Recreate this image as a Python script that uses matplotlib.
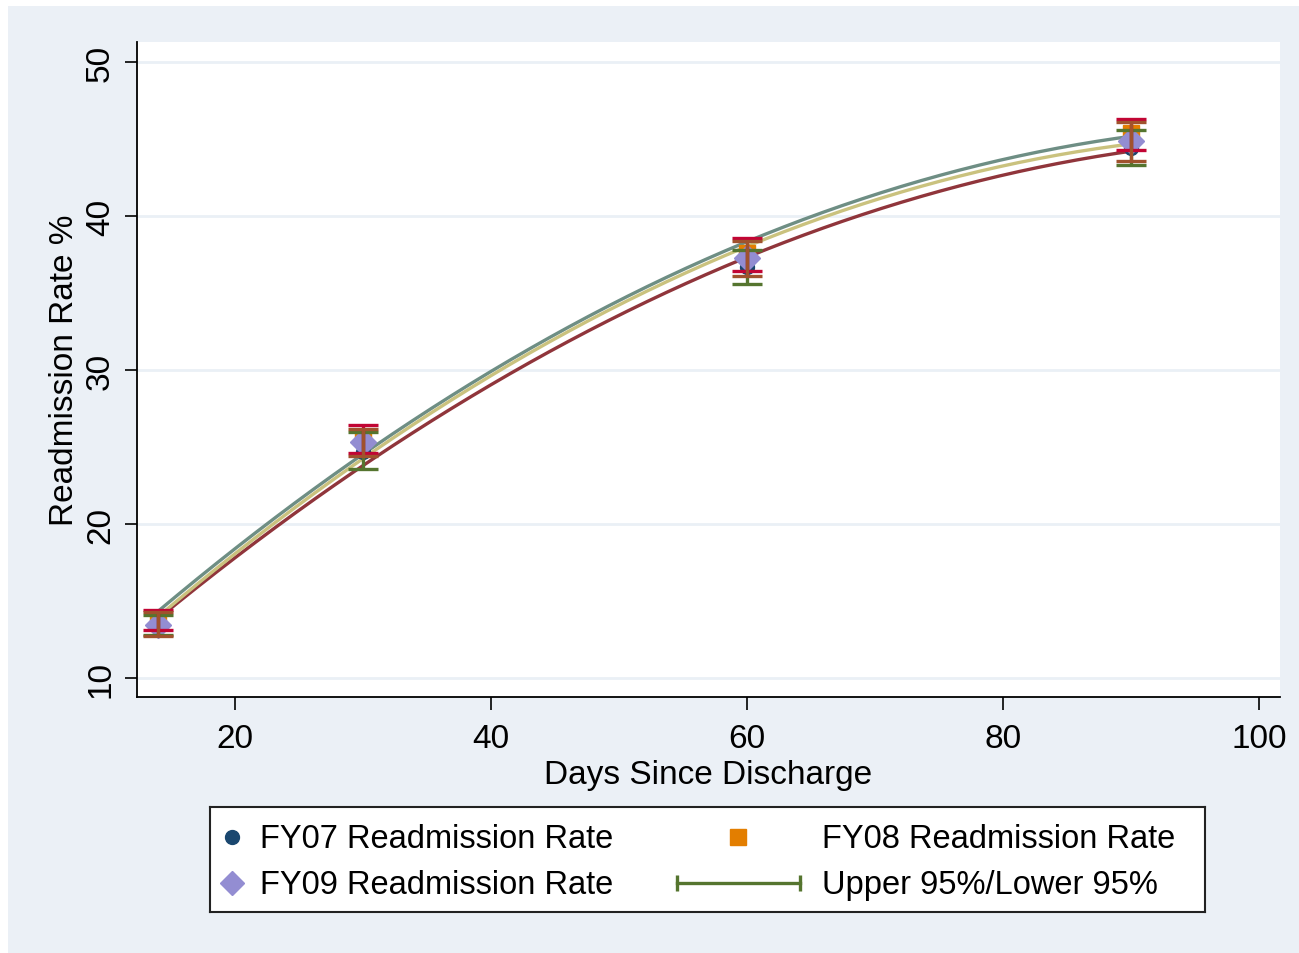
import numpy as np
import matplotlib
matplotlib.use("Agg")
import matplotlib.pyplot as plt
from matplotlib.patches import Rectangle

plt.rcParams['font.family'] = ['Liberation Sans', 'DejaVu Sans']

# ============================================
# DATA
# ============================================
days = [14, 30, 60, 90]

fy07_rate = [13.4, 24.7, 36.7, 44.4]
fy08_rate = [13.8, 25.6, 37.6, 45.4]
fy09_rate = [13.45, 25.3, 37.3, 44.9]

fy07_lo = [12.8, 23.6, 35.6, 43.3]
fy07_hi = [14.1, 26.0, 37.8, 45.6]
fy08_lo = [13.1, 24.6, 36.4, 44.3]
fy08_hi = [14.4, 26.4, 38.6, 46.3]
fy09_lo = [12.7, 24.4, 36.1, 43.6]
fy09_hi = [14.3, 26.2, 38.4, 46.1]

x_ticks = [20, 40, 60, 80, 100]
y_ticks = [10, 20, 30, 40, 50]

# Stata s2color palette
NAVY = '#1A476F'
DKORANGE = '#E37E00'
LAVENDER = '#938DD2'
MAROON = '#90353B'
TEAL = '#6E8E84'
KHAKI = '#CAC27E'
FOREST = '#55752F'
CRANBERRY = '#C10534'
SIENNA = '#A0522D'
BG = '#EBF0F6'
FS = 24

W, H = 1299, 954
fig = plt.figure(figsize=(W / 100, H / 100), dpi=100)
fig.patch.set_facecolor('white')
fig.patches.append(Rectangle((8 / W, 0), 1 - 8 / W, 1 - 7 / H,
                             transform=fig.transFigure, facecolor=BG,
                             edgecolor='none', zorder=-10))

ax = fig.add_axes([137 / W, 1 - 698 / H, (1280 - 137) / W, (698 - 43) / H])
ax.set_facecolor('white')

# quadratic fits (like Stata qfit)
xs = np.linspace(min(days), max(days), 200)
for rate, col in [(fy07_rate, MAROON), (fy08_rate, TEAL), (fy09_rate, KHAKI)]:
    coef = np.polyfit(days, rate, 2)
    ax.plot(xs, np.polyval(coef, xs), color=col, linewidth=2.4, zorder=2)

# points
ax.plot(days, fy07_rate, 'o', color=NAVY, markersize=10, zorder=3)
ax.plot(days, fy08_rate, 's', color=DKORANGE, markersize=12, zorder=3)
ax.plot(days, fy09_rate, 'D', color=LAVENDER, markersize=13.5, zorder=3)

# confidence intervals
for lo, hi, col in [(fy07_lo, fy07_hi, FOREST), (fy08_lo, fy08_hi, CRANBERRY),
                    (fy09_lo, fy09_hi, SIENNA)]:
    lo = np.array(lo)
    hi = np.array(hi)
    ax.errorbar(days, lo, yerr=[np.zeros_like(lo), hi - lo], fmt='none',
                ecolor=col, elinewidth=2.4, capsize=11, capthick=2.4, zorder=4)

ax.set_xlim(12.34, 101.64)
ax.set_ylim(8.77, 51.3)
ax.set_xticks(x_ticks)
ax.set_yticks(y_ticks)
ax.set_yticklabels([str(v) for v in y_ticks], rotation=90, va='center')
ax.tick_params(axis='both', labelsize=FS, length=9, width=1.2, color='black')
ax.tick_params(axis='x', pad=10)
ax.tick_params(axis='y', pad=6)
ax.grid(True, axis='y', color='#EAF0F6', linewidth=2)
ax.set_axisbelow(True)
for s in ['top', 'right']:
    ax.spines[s].set_visible(False)
for s in ['left', 'bottom']:
    ax.spines[s].set_linewidth(1.3)

ax.set_xlabel('Days Since Discharge', fontsize=FS, labelpad=3)
ax.set_ylabel('Readmission Rate %', fontsize=FS, labelpad=4)

# legend box, Stata style
lg = fig.add_axes([210 / W, 1 - 913 / H, 995 / W, 105 / H])
lg.set_xlim(0, 995)
lg.set_ylim(0, 105)
lg.set_xticks([])
lg.set_yticks([])
lg.set_facecolor('white')
for s in lg.spines.values():
    s.set_linewidth(1.5)
    s.set_color('#222222')

lg.plot([22], [75], 'o', color=NAVY, markersize=10)
lg.text(50, 73, 'FY07 Readmission Rate', fontsize=23.5, va='center')
lg.plot([22], [29], 'D', color=LAVENDER, markersize=12)
lg.text(50, 27, 'FY09 Readmission Rate', fontsize=23.5, va='center')
lg.plot([528], [75], 's', color=DKORANGE, markersize=12)
lg.text(612, 73, 'FY08 Readmission Rate', fontsize=23.5, va='center')
lg.plot([467, 590], [29, 29], color=FOREST, linewidth=2.4)
lg.plot([467, 590], [29, 29], '|', color=FOREST, markersize=12, markeredgewidth=2.4)
lg.text(612, 27, 'Upper 95%/Lower 95%', fontsize=23.5, va='center')

fig.savefig('out.png', dpi=100, facecolor=fig.get_facecolor())
